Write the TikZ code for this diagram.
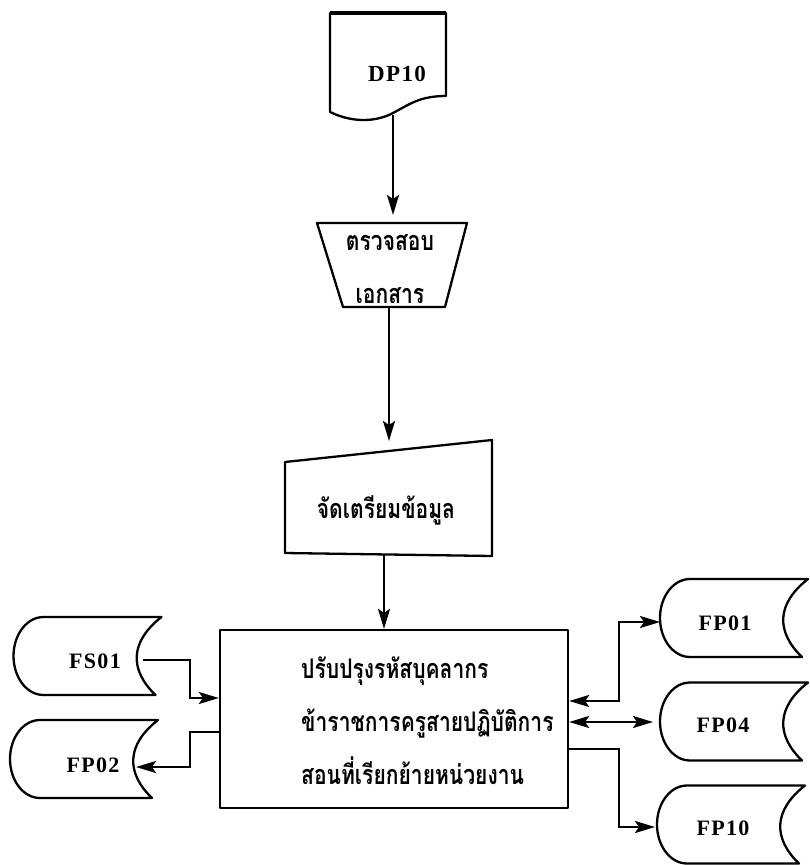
\documentclass[tikz,border=0pt]{standalone}
\usepackage{fontspec}
\newfontfamily\thaifont[Script=Thai, FakeStretch=0.78]{Loma}
\newfontfamily\codefont[LetterSpace=6]{Liberation Serif}
\usetikzlibrary{arrows.meta,calc}

\tikzset{
  outline/.style={line width=2.3pt, line join=round},
  tip/.tip={Stealth[length=20pt,width=12pt,inset=4pt]},
  arr/.style={line width=2.3pt, -tip},
  biarr/.style={line width=2.3pt, tip-tip},
  code/.style={font=\codefont\bfseries\fontsize{22}{22}\selectfont, inner sep=0pt},
  thai/.style={font=\thaifont\bfseries\fontsize{27}{53}\selectfont, inner sep=0pt},
}

% stored-data outline around a label node: #1 node, (#2,#3) shape centre offset
\newcommand\storeoutline[3]{%
  \begin{scope}[shift={($(#1.center)+(#2,#3)$)}]
    \draw[outline] (-44,39) -- (74,39) .. controls (42,14) and (42,-14) .. (68,-39)
      -- (-44,-39) arc[start angle=270,end angle=90,x radius=30pt,y radius=39pt] -- cycle;
    \coordinate (#1-in) at (49,0);
    \coordinate (#1-w) at (-74,0);
  \end{scope}}

\begin{document}
\begin{tikzpicture}[x=1pt,y=1pt]
\useasboundingbox (0,0) rectangle (809,-865);

% source document
\node[code, font=\codefont\bfseries\fontsize{23}{23}\selectfont] (dp) at (397,-74) {DP10};
\begin{scope}[shift={(dp.center)}]
  \draw[outline] (-67,61) -- (49,61) -- (49,-22) .. controls (23,-22) and (13,-30) .. (-4,-39)
    .. controls (-19,-47) and (-42,-50) .. (-67,-38) -- cycle;
  \draw[line width=4pt] (-67,61) -- (49,61);
  \coordinate (dp-s) at (-4,-41);
\end{scope}

% manual check
\node[thai, align=center] (chk) at (390,-269) {ตรวจสอบ\\เอกสาร};
\begin{scope}[shift={(chk.center)}]
  \draw[outline] (-73,46) -- (77,46) -- (55,-38) -- (-47,-38) -- cycle;
  \coordinate (chk-n) at (2,46);
  \coordinate (chk-s) at (-1,-38);
\end{scope}

% manual input
\node[thai] (prep) at (386,-510) {จัดเตรียมข้อมูล};
\begin{scope}[shift={(prep.center)}]
  \draw[outline] (-101,48) -- (106,70) -- (106,-46) -- (-101,-43) -- cycle;
  \coordinate (prep-n) at (3,59);
  \coordinate (prep-s) at (-2,-45);
\end{scope}

% main process
\node[draw, outline, minimum width=348pt, minimum height=178pt, inner sep=0pt] (main) at (394,-719) {};
\node[thai, anchor=west, align=left] (mtext) at (301,-721)
  {ปรับปรุงรหัสบุคลากร\\ข้าราชการครูสายปฏิบัติการ\\สอนที่เรียกย้ายหน่วยงาน};

% stored data files
\node[code] (fs01) at (95,-661) {FS01};
\storeoutline{fs01}{-7.5}{5}
\node[code] (fp02) at (93,-765) {FP02};
\storeoutline{fp02}{-9}{6}
\node[code] (fp01) at (725,-623) {FP01};
\storeoutline{fp01}{9}{5}
\node[code] (fp04) at (723,-725) {FP04};
\storeoutline{fp04}{11}{3.5}
\node[code] (fp10) at (723,-828) {FP10};
\storeoutline{fp10}{8}{3.5}

% flow down the middle
\draw[arr, shorten >=8pt] (dp-s) -- (dp-s |- chk-n);
\draw[arr, shorten >=10pt] (chk-s) -- (chk-s |- prep-n);
\draw[arr] (prep-s) -- (prep-s |- main.north);

% side connections
\coordinate (mW1) at ([yshift=21pt]main.west);
\coordinate (mW2) at ([yshift=-13pt]main.west);
\coordinate (mE1) at ([yshift=18pt]main.east);
\coordinate (mE2) at ([yshift=-3pt]main.east);
\coordinate (mE3) at ([yshift=-30pt]main.east);
\coordinate (jl) at (190,0);
\coordinate (jr) at (619,0);
\coordinate (fs01-o) at ([shift={(6pt,-4pt)}]fs01-in);
\coordinate (fp02-t) at ([shift={(3pt,-8pt)}]fp02-in);
\coordinate (fp01-t) at ([yshift=-4pt]fp01-w);
\coordinate (fp10-t) at ([shift={(-2pt,-2.5pt)}]fp10-w);

\draw[arr] (fs01-o) -| (jl |- mW1) -- (mW1);
\draw[arr] (mW2) -| (jl |- fp02-t) -- (fp02-t);
\draw[biarr] (mE1) -| (jr |- fp01-t) -- (fp01-t);
\draw[biarr, shorten >=7pt] (mE2) -- (mE2 -| fp04-w);
\draw[arr] (mE3) -| (jr |- fp10-t) -- (fp10-t);
\end{tikzpicture}
\end{document}
